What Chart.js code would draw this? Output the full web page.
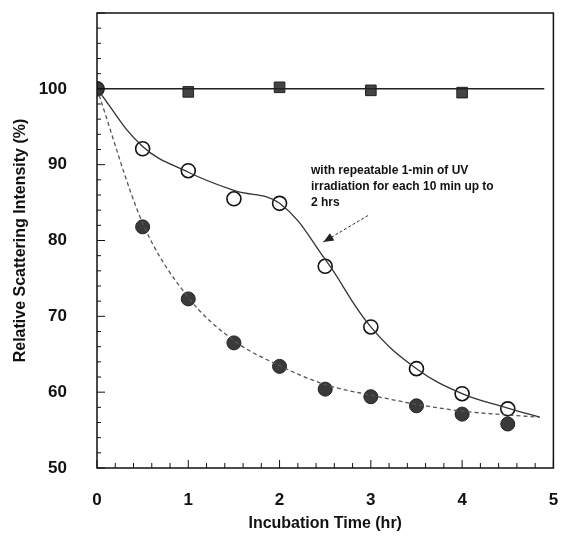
<!DOCTYPE html>
<html>
<head>
<meta charset="utf-8">
<script src="https://cdn.jsdelivr.net/npm/chart.js@4"></script>
<style>
  html, body { margin: 0; padding: 0; background: #fff; }
  #wrap { width: 562px; height: 536px; }
</style>
</head>
<body>
<div id="wrap"><canvas id="scatterChart"></canvas></div>
<script>
// --- data ---
const timeHalfHours = [0, 0.5, 1, 1.5, 2, 2.5, 3, 3.5, 4, 4.5];
const withUV = [100, 92.1, 89.2, 85.5, 84.9, 76.6, 68.6, 63.1, 59.8, 57.8];
const withoutUV = [100, 81.8, 72.3, 66.5, 63.4, 60.4, 59.4, 58.2, 57.1, 55.8];
const controlTimes = [1, 2, 3, 4];
const control = [99.6, 100.2, 99.8, 99.5];
// fitted curves as traced on the picture
const curveTimes = [0, 0.5, 1, 1.5, 2, 2.5, 3, 3.5, 4, 4.5, 4.85];
const withUVCurve = [100, 92.4, 89.0, 86.6, 84.9, 77.5, 68.6, 63.1, 59.8, 57.9, 56.7];
const withoutUVCurve = [100, 82.3, 72.5, 66.8, 63.5, 61.0, 59.6, 58.4, 57.5, 57.0, 56.7];
const controlLine = [[0, 100], [4.9, 100]];
const xTicks = [0, 1, 2, 3, 4, 5];
const yTicks = [50, 60, 70, 80, 90, 100];
const noteLines = ['with repeatable 1-min of UV', 'irradiation for each 10 min up to', '2 hrs'];
const arrowFrom = [2.97, 83.3];
const arrowTo = [2.48, 79.8];

const toPoints = (xs, ys) => xs.map((x, i) => ({ x: x, y: ys[i] }));

const framePlugin = {
  id: 'frame',
  afterDraw(chart) {
    const { ctx, chartArea: a, scales: { x, y } } = chart;
    ctx.save();
    ctx.strokeStyle = '#111';
    ctx.lineWidth = 1.5;
    ctx.strokeRect(a.left, a.top, a.right - a.left, a.bottom - a.top);

    // inward tick marks
    ctx.lineWidth = 1;
    for (let v = 0; v <= 50; v++) {
      const px = x.getPixelForValue(v / 10);
      const len = v % 10 === 0 ? 8 : (v % 2 === 0 ? 5 : 0);
      if (!len) continue;
      ctx.beginPath();
      ctx.moveTo(px, a.bottom);
      ctx.lineTo(px, a.bottom - len);
      ctx.stroke();
    }
    for (let v = 50; v <= 110; v += 2) {
      const py = y.getPixelForValue(v);
      const len = v % 10 === 0 ? 8 : 4;
      ctx.beginPath();
      ctx.moveTo(a.left, py);
      ctx.lineTo(a.left + len, py);
      ctx.stroke();
    }

    // annotation arrow
    const x1 = x.getPixelForValue(arrowFrom[0]), y1 = y.getPixelForValue(arrowFrom[1]);
    const x2 = x.getPixelForValue(arrowTo[0]), y2 = y.getPixelForValue(arrowTo[1]);
    ctx.strokeStyle = '#333';
    ctx.setLineDash([3, 2]);
    ctx.beginPath();
    ctx.moveTo(x1, y1);
    ctx.lineTo(x2, y2);
    ctx.stroke();
    ctx.setLineDash([]);
    const ang = Math.atan2(y2 - y1, x2 - x1);
    ctx.fillStyle = '#222';
    ctx.beginPath();
    ctx.moveTo(x2, y2);
    ctx.lineTo(x2 - 11 * Math.cos(ang - 0.4), y2 - 11 * Math.sin(ang - 0.4));
    ctx.lineTo(x2 - 11 * Math.cos(ang + 0.4), y2 - 11 * Math.sin(ang + 0.4));
    ctx.closePath();
    ctx.fill();

    // annotation text
    ctx.fillStyle = '#111';
    ctx.font = 'bold 12px "Liberation Sans", Arial, sans-serif';
    ctx.textBaseline = 'middle';
    ctx.textAlign = 'left';
    noteLines.forEach((t, i) => ctx.fillText(t, 311, 171 + i * 16));
    ctx.restore();
  }
};

const tickFont = { family: '"Liberation Sans", Arial, sans-serif', size: 17, weight: 'bold' };
const titleFont = { family: '"Liberation Sans", Arial, sans-serif', size: 16, weight: 'bold' };

new Chart(document.getElementById('scatterChart'), {
  type: 'scatter',
  data: {
    datasets: [
      {
        label: 'control line',
        data: controlLine.map(p => ({ x: p[0], y: p[1] })),
        showLine: true,
        borderColor: '#222',
        borderWidth: 1.5,
        pointRadius: 0
      },
      {
        label: 'without UV curve',
        data: toPoints(curveTimes, withoutUVCurve),
        showLine: true,
        borderColor: '#555',
        borderWidth: 1.3,
        borderDash: [4, 3],
        cubicInterpolationMode: 'monotone',
        pointRadius: 0
      },
      {
        label: 'with UV curve',
        data: toPoints(curveTimes, withUVCurve),
        showLine: true,
        borderColor: '#333',
        borderWidth: 1.3,
        tension: 0.4,
        pointRadius: 0
      },
      {
        label: 'control',
        data: toPoints(controlTimes, control),
        pointStyle: 'rect',
        pointRadius: 7.5,
        backgroundColor: '#444',
        borderColor: '#222',
        borderWidth: 1
      },
      {
        label: 'without UV',
        data: toPoints(timeHalfHours, withoutUV),
        pointStyle: 'circle',
        pointRadius: 7,
        backgroundColor: '#3a3a3a',
        borderColor: '#222',
        borderWidth: 1
      },
      {
        label: 'with UV',
        data: toPoints(timeHalfHours, withUV),
        pointStyle: 'circle',
        pointRadius: 7,
        backgroundColor: '#fff',
        borderColor: '#111',
        borderWidth: 1.6
      }
    ]
  },
  options: {
    responsive: true,
    maintainAspectRatio: false,
    animation: false,
    layout: { padding: { top: 13, right: 7, left: 0, bottom: 0 } },
    plugins: { legend: { display: false }, tooltip: { enabled: false } },
    scales: {
      x: {
        type: 'linear',
        min: 0,
        max: 5,
        afterBuildTicks: s => { s.ticks = xTicks.map(v => ({ value: v })); },
        afterFit: s => { s.height = 68; s.paddingLeft = 0; s.paddingRight = 0; },
        grid: { display: false },
        border: { display: false },
        ticks: { font: tickFont, color: '#111', padding: 14 },
        title: {
          display: true,
          text: 'Incubation Time (hr)',
          font: titleFont,
          color: '#111',
          padding: { top: 0, bottom: 3 }
        }
      },
      y: {
        min: 50,
        max: 110,
        afterBuildTicks: s => { s.ticks = yTicks.map(v => ({ value: v })); },
        afterFit: s => { s.width = 97; s.paddingTop = 0; s.paddingBottom = 0; },
        grid: { display: false },
        border: { display: false },
        ticks: { font: tickFont, color: '#111', padding: 22 },
        title: {
          display: true,
          text: 'Relative Scattering Intensity (%)',
          font: titleFont,
          color: '#111',
          padding: { top: 11, bottom: 0 }
        }
      }
    }
  },
  plugins: [framePlugin]
});
</script>
</body>
</html>
